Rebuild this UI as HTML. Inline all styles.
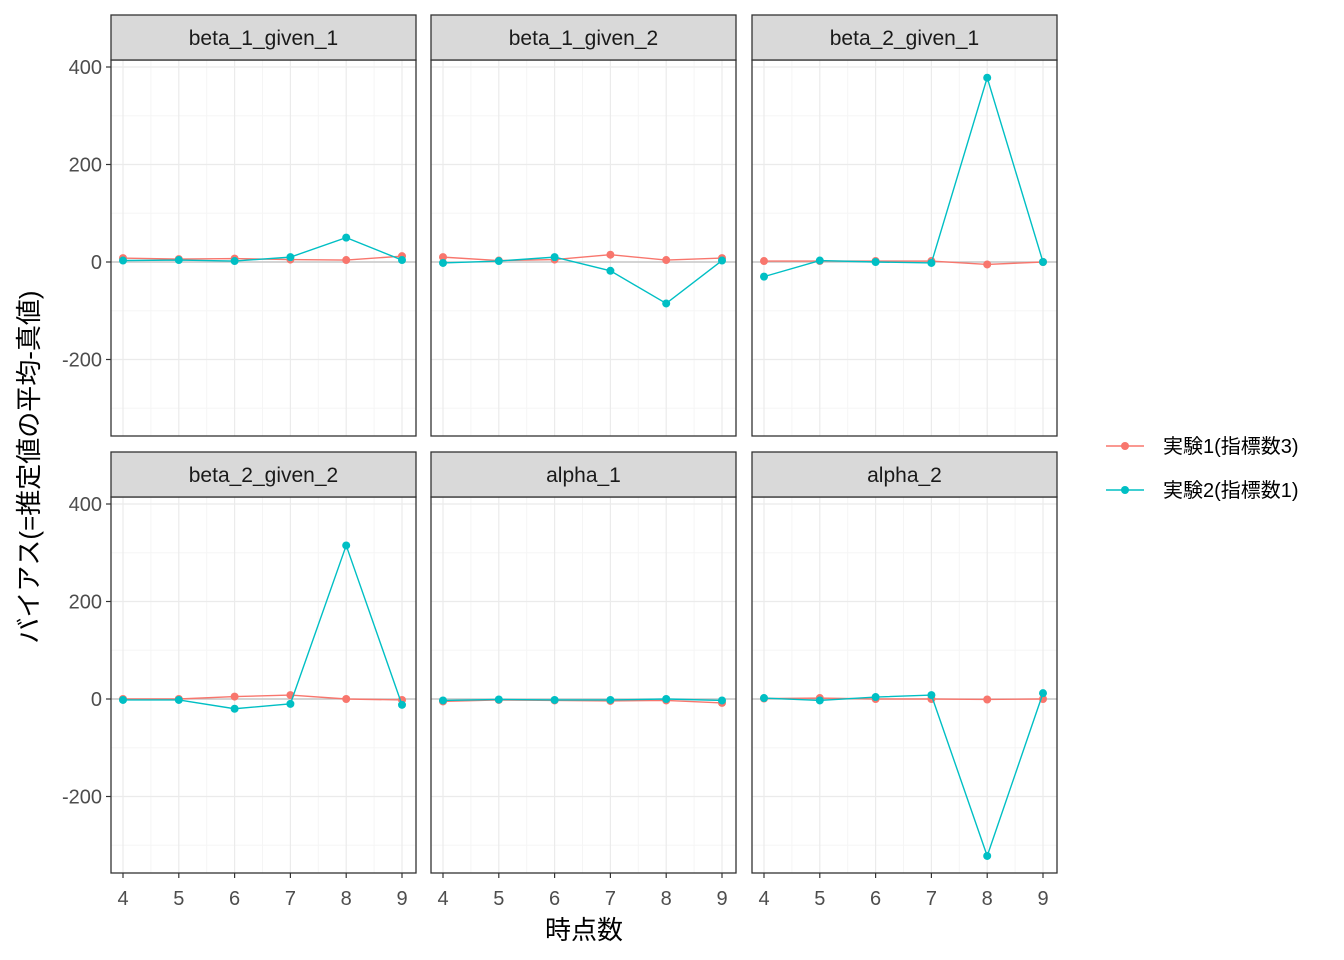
<!DOCTYPE html>
<html><head><meta charset="utf-8">
<style>body{margin:0;background:#fff}svg{display:block}text{font-family:"Liberation Sans","Noto Sans CJK JP",sans-serif}</style>
</head><body>
<svg id="c" width="1344" height="960" xmlns="http://www.w3.org/2000/svg"></svg>
<script>
const panelNames=["beta_1_given_1","beta_1_given_2","beta_2_given_1","beta_2_given_2","alpha_1","alpha_2"];
const timePoints=[4,5,6,7,8,9];
const exp1Values=[[8,6,7,5,4,12],[10,3,5,15,4,8],[2,2,2,2,-5,0],[0,0,5,8,0,-2],[-5,-2,-3,-4,-3,-8],[1,2,0,0,-1,0]];
const exp2Values=[[3,4,2,10,50,4],[-2,2,10,-18,-85,3],[-30,3,0,-2,378,0],[-2,-2,-20,-10,315,-12],[-3,-1,-2,-2,0,-3],[2,-3,4,8,-322,12]];
const yTicks=[400,200,0,-200];
const yMinor=[300,100,-100,-300];
const seriesLabels=["実験1(指標数3)","実験2(指標数1)"];
const colors=["#F8766D","#00BFC4"];
const svg=document.getElementById('c');const NS="http://www.w3.org/2000/svg";
function mk(t,a,p){const e=document.createElementNS(NS,t);for(const k in a)e.setAttribute(k,a[k]);(p||svg).appendChild(e);return e;}
const colX=[111,431,752],W=305,rowY=[60,497],H=376;
for(let i=0;i<6;i++){
  const c=i%3,r=Math.floor(i/3),x0=colX[c],y0=rowY[r];
  const g=mk('g',{});
  
  
  const xs=v=>x0+12+(v-4)*55.8;
  const ys=v=>y0+202-v*0.4875;
  mk('rect',{x:x0,y:y0,width:W,height:H,fill:'#fff'},g);
  yMinor.forEach(v=>mk('line',{x1:x0,x2:x0+W,y1:ys(v),y2:ys(v),stroke:'#F5F5F5','stroke-width':1},g));
  timePoints.slice(0,5).forEach(v=>mk('line',{x1:xs(v+0.5),x2:xs(v+0.5),y1:y0,y2:y0+H,stroke:'#F5F5F5','stroke-width':1},g));
  yTicks.forEach(v=>mk('line',{x1:x0,x2:x0+W,y1:ys(v),y2:ys(v),stroke:'#EBEBEB','stroke-width':1.2},g));
  timePoints.forEach(v=>mk('line',{x1:xs(v),x2:xs(v),y1:y0,y2:y0+H,stroke:'#EBEBEB','stroke-width':1.2},g));
  mk('line',{x1:x0,x2:x0+W,y1:ys(0),y2:ys(0),stroke:'#BEBEBE','stroke-width':1.2},g);
  [exp1Values,exp2Values].forEach((vals,s)=>{
    const pts=timePoints.map((t,j)=>xs(t)+','+ys(vals[i][j])).join(' ');
    const pl=mk('polyline',{points:pts,fill:'none',stroke:colors[s],'stroke-width':1.4},g);
    
    
    timePoints.forEach((t,j)=>{const d=mk('circle',{cx:xs(t),cy:ys(vals[i][j]),r:4,fill:colors[s]},g);
      
      });
  });
  mk('rect',{x:x0,y:y0,width:W,height:H,fill:'none',stroke:'#333','stroke-width':1.3},g);
  mk('rect',{x:x0,y:y0-45,width:W,height:45,fill:'#D9D9D9',stroke:'#333','stroke-width':1.3},g);
  const st=mk('text',{x:x0+W/2,y:y0-15,'text-anchor':'middle','font-size':21,fill:'#1A1A1A'},g);st.textContent=panelNames[i];
  
  
  if(c===0){yTicks.forEach(v=>{mk('line',{x1:x0-5,x2:x0,y1:ys(v),y2:ys(v),stroke:'#333','stroke-width':1.2},g);
    const t=mk('text',{x:x0-9,y:ys(v)+7,'text-anchor':'end','font-size':20,fill:'#4D4D4D'},g);t.textContent=v;
    
    });}
  if(r===1){timePoints.forEach(v=>{mk('line',{x1:xs(v),x2:xs(v),y1:y0+H,y2:y0+H+5,stroke:'#333','stroke-width':1.2},g);
    const t=mk('text',{x:xs(v),y:y0+H+32,'text-anchor':'middle','font-size':20,fill:'#4D4D4D'},g);t.textContent=v;
    
    });}
}
const xt=mk('text',{x:584,y:939,'text-anchor':'middle','font-size':26,fill:'#000'});xt.textContent="時点数";


const yt=mk('text',{x:0,y:0,'text-anchor':'middle','font-size':26,fill:'#000',transform:'translate(38,467) rotate(-90)'});yt.textContent="バイアス(=推定値の平均-真値)";


seriesLabels.forEach((l,s)=>{const y=446+s*44;
  const g=mk('g',{});
  
  
  mk('line',{x1:1106,x2:1144,y1:y,y2:y,stroke:colors[s],'stroke-width':1.4},g);
  mk('circle',{cx:1125,cy:y,r:4,fill:colors[s]},g);
  const t=mk('text',{x:1163,y:y+7,'font-size':20,fill:'#000'},g);t.textContent=l;});
</script>
</body></html>
